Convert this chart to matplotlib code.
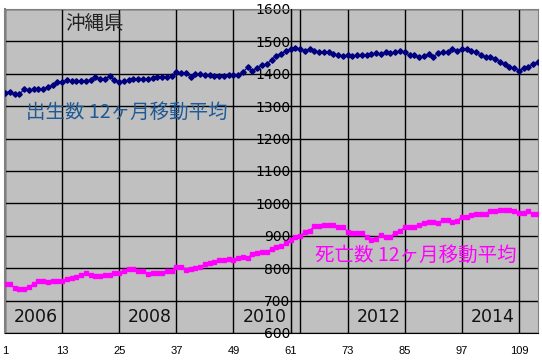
import matplotlib
matplotlib.use("Agg")
import matplotlib.pyplot as plt
import numpy as np

# 12ヶ月移動平均 (month index 1..113)
births = [1342, 1345, 1338, 1337, 1352, 1350, 1352, 1352, 1354, 1358,
          1364, 1374, 1375, 1380, 1377, 1377, 1378, 1378, 1381, 1389,
          1385, 1385, 1392, 1380, 1375, 1378, 1380, 1385, 1383, 1383,
          1385, 1386, 1390, 1390, 1390, 1392, 1405, 1401, 1403, 1389,
          1399, 1399, 1396, 1396, 1394, 1394, 1394, 1396, 1396, 1396,
          1405, 1420, 1410, 1417, 1427, 1430, 1443, 1456, 1461, 1471,
          1475, 1479, 1475, 1471, 1475, 1470, 1468, 1468, 1468, 1460,
          1458, 1455, 1458, 1455, 1458, 1459, 1458, 1460, 1463, 1460,
          1466, 1463, 1466, 1470, 1466, 1458, 1458, 1451, 1455, 1460,
          1453, 1463, 1466, 1466, 1476, 1471, 1476, 1476, 1470, 1466,
          1458, 1451, 1451, 1446, 1437, 1429, 1420, 1417, 1410, 1417,
          1420, 1430, 1437]
deaths = [751, 751, 740, 736, 736, 743, 751, 761, 761, 758,
          761, 761, 761, 766, 771, 774, 780, 784, 780, 777,
          777, 780, 780, 784, 786, 792, 799, 799, 792, 790,
          783, 786, 786, 786, 790, 792, 805, 805, 794, 798,
          802, 805, 812, 817, 818, 825, 825, 828, 825, 830,
          836, 833, 843, 846, 849, 851, 859, 864, 869, 877,
          887, 897, 900, 911, 915, 931, 931, 932, 934, 934,
          928, 928, 913, 910, 909, 908, 897, 887, 891, 901,
          897, 897, 910, 916, 926, 928, 928, 934, 941, 944,
          944, 941, 948, 950, 944, 947, 959, 959, 964, 966,
          968, 968, 978, 978, 980, 980, 980, 978, 971, 971,
          975, 967, 967]
months = np.arange(1, len(births) + 1)

x_ticks = [1, 13, 25, 37, 49, 61, 73, 85, 97, 109]
y_ticks = list(range(600, 1700, 100))
years = ["2006", "2008", "2010", "2012", "2014"]
year_x = [7.5, 31.5, 55.5, 79.5, 103.5]

W, H = 542, 361
fig = plt.figure(figsize=(W / 100, H / 100), dpi=100)
ax = fig.add_axes([5 / W, 28 / H, 533 / W, 324 / H])
ax.set_facecolor("#c0c0c0")

ax.plot(months, births, color="#000080", lw=0.8, marker="D", ms=2.8, zorder=4)
ax.plot(months, deaths, color="#ff00ff", lw=0.8, marker="s", ms=2.9, zorder=4)

ax.set_xlim(1, 113)
ax.set_ylim(600, 1600)
ax.set_xticks(x_ticks)
ax.set_xticklabels([str(t) for t in x_ticks], fontsize=8, family="Liberation Sans")
ax.set_yticks(y_ticks)
ax.set_yticklabels([str(t) for t in y_ticks], fontsize=9.5, fontweight="bold",
                   family="Liberation Sans")
ax.tick_params(axis="x", length=0, pad=9)
ax.tick_params(axis="y", length=0, pad=0)

ax.grid(True, color="black", lw=1)
ax.axvline(63.0, color="black", lw=1, zorder=1)

ax.spines["left"].set_position(("data", 61))
ax.spines["left"].set_color("black")
ax.spines["left"].set_zorder(3)
ax.spines["bottom"].set_color("black")
for s in ["top", "right"]:
    ax.spines[s].set_color("#808080")
ax.axvline(1, color="#808080", lw=1.5, clip_on=False)

for yr, xc in zip(years, year_x):
    ax.text(xc, 650, yr, ha="center", va="center", fontsize=12.5,
            family="DejaVu Sans", color="#111111")

cjk = ["Noto Sans CJK JP", "DejaVu Sans"]
ax.text(13.6, 1555, "沖縄県", ha="left", va="center", fontsize=14,
        family=cjk, color="#222222")
ax.text(5.4, 1280, "出生数 12ヶ月移動平均", ha="left", va="center", fontsize=14,
        family=cjk, color="#1f5a96")
ax.text(66.1, 841, "死亡数 12ヶ月移動平均", ha="left", va="center", fontsize=14,
        family=cjk, color="#ff00ff", zorder=5)

fig.savefig("out.png", dpi=100, facecolor="white")
